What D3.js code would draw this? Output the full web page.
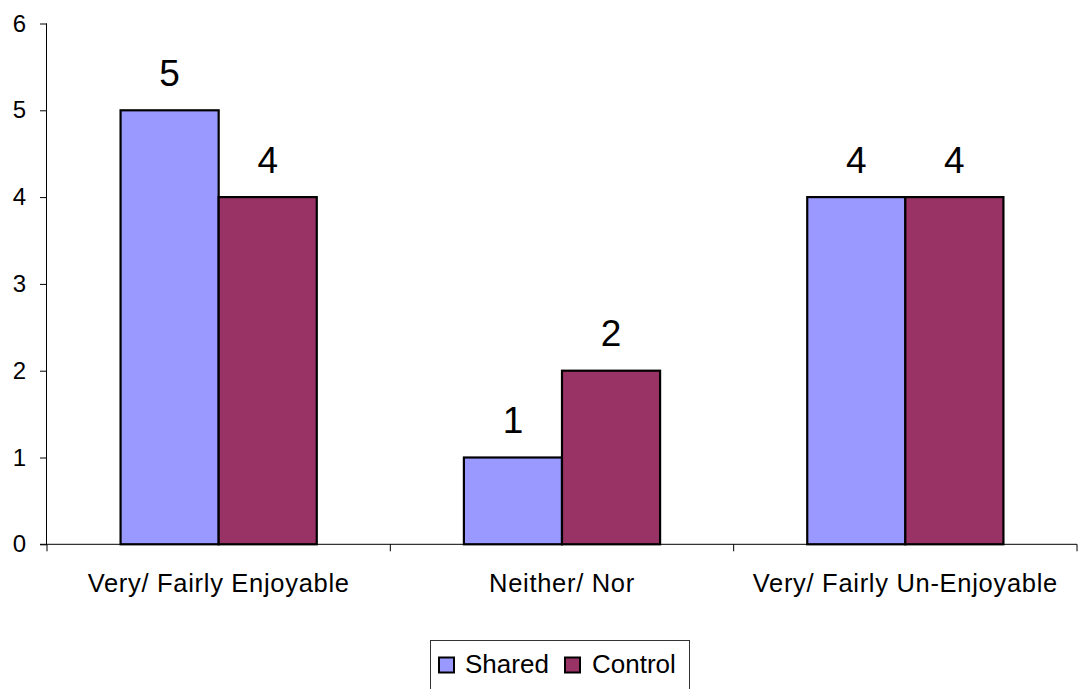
<!DOCTYPE html>
<html><head><meta charset="utf-8">
<script src="https://cdn.jsdelivr.net/npm/d3@7"></script>
<style>body{margin:0;background:#fff}svg{display:block}text{font-family:"Liberation Sans",Arial,sans-serif;fill:#000}</style>
</head><body><svg id="c" width="1079" height="689"></svg>
<script>
const categories = ["Very/ Fairly Enjoyable", "Neither/ Nor", "Very/ Fairly Un-Enjoyable"];
const seriesNames = ["Shared", "Control"];
const shared = [5, 1, 4];
const control = [4, 2, 4];
const colors = ["#9999FF", "#993366"];
const yTicks = [0, 1, 2, 3, 4, 5, 6];

const svg = d3.select("#c");
const x0 = 47, x1 = 1077, yb = 544.3, yt = 23.5;
const x = d3.scaleBand().domain(categories).range([x0, x1]).paddingInner(0).paddingOuter(0);
const y = d3.scaleLinear().domain([0, 6]).range([yb, yt]);
const bw = x.bandwidth() / 3.5;
const xs = d3.scaleBand().domain(seriesNames).range([0, 2 * bw]);

const data = [shared, control];

// bars
categories.forEach((c, i) => {
  seriesNames.forEach((s, j) => {
    const v = data[j][i];
    const bx = x(c) + x.bandwidth() / 2 - bw + xs(s);
    svg.append("rect").attr("x", bx).attr("y", y(v)).attr("width", bw).attr("height", y(0) - y(v))
      .attr("fill", colors[j]).attr("stroke", "#000").attr("stroke-width", 2.2);
    svg.append("text").attr("x", bx + bw / 2).attr("y", y(v) - 24.5).attr("text-anchor", "middle")
      .attr("font-size", 37).text(v);
  });
});

// y axis
const ya = svg.append("g").attr("transform", `translate(${x0},0)`)
  .call(d3.axisLeft(y).tickValues(yTicks).tickSize(7).tickPadding(14).tickFormat(d3.format("d")));
ya.select(".domain").attr("stroke", "#000").attr("d", `M-0.5,${yb}V${yt}`);
ya.selectAll(".tick line").attr("stroke", "#000");
ya.selectAll(".tick text").style("font-size", "24px").attr("font-family", '"Liberation Sans",Arial,sans-serif').attr("fill", "#000");

// x axis
const xa = svg.append("g").attr("transform", `translate(0,${yb})`);
xa.append("line").attr("x1", x0 - 7).attr("x2", x1).attr("y1", 0).attr("y2", 0).attr("stroke", "#000");
const bounds = categories.map(c => x(c)).concat([x1]);
bounds.forEach(b => xa.append("line").attr("x1", b).attr("x2", b).attr("y1", 0).attr("y2", 7).attr("stroke", "#000"));
categories.forEach(c => {
  xa.append("text").attr("x", x(c) + x.bandwidth() / 2).attr("y", 47.5).attr("text-anchor", "middle")
    .attr("font-size", 25.5).attr("letter-spacing", 0.7).text(c);
});

// legend
const lg = svg.append("g");
lg.append("rect").attr("x", 430.5).attr("y", 640.5).attr("width", 259).attr("height", 60)
  .attr("fill", "#fff").attr("stroke", "#333").attr("stroke-width", 1);
const lx = [439, 565], tx = [465, 592];
seriesNames.forEach((s, j) => {
  lg.append("rect").attr("x", lx[j]).attr("y", 657.5).attr("width", 15).attr("height", 15)
    .attr("fill", colors[j]).attr("stroke", "#000").attr("stroke-width", 2);
  lg.append("text").attr("x", tx[j]).attr("y", 673).attr("font-size", 26).text(s);
});
</script></body></html>
